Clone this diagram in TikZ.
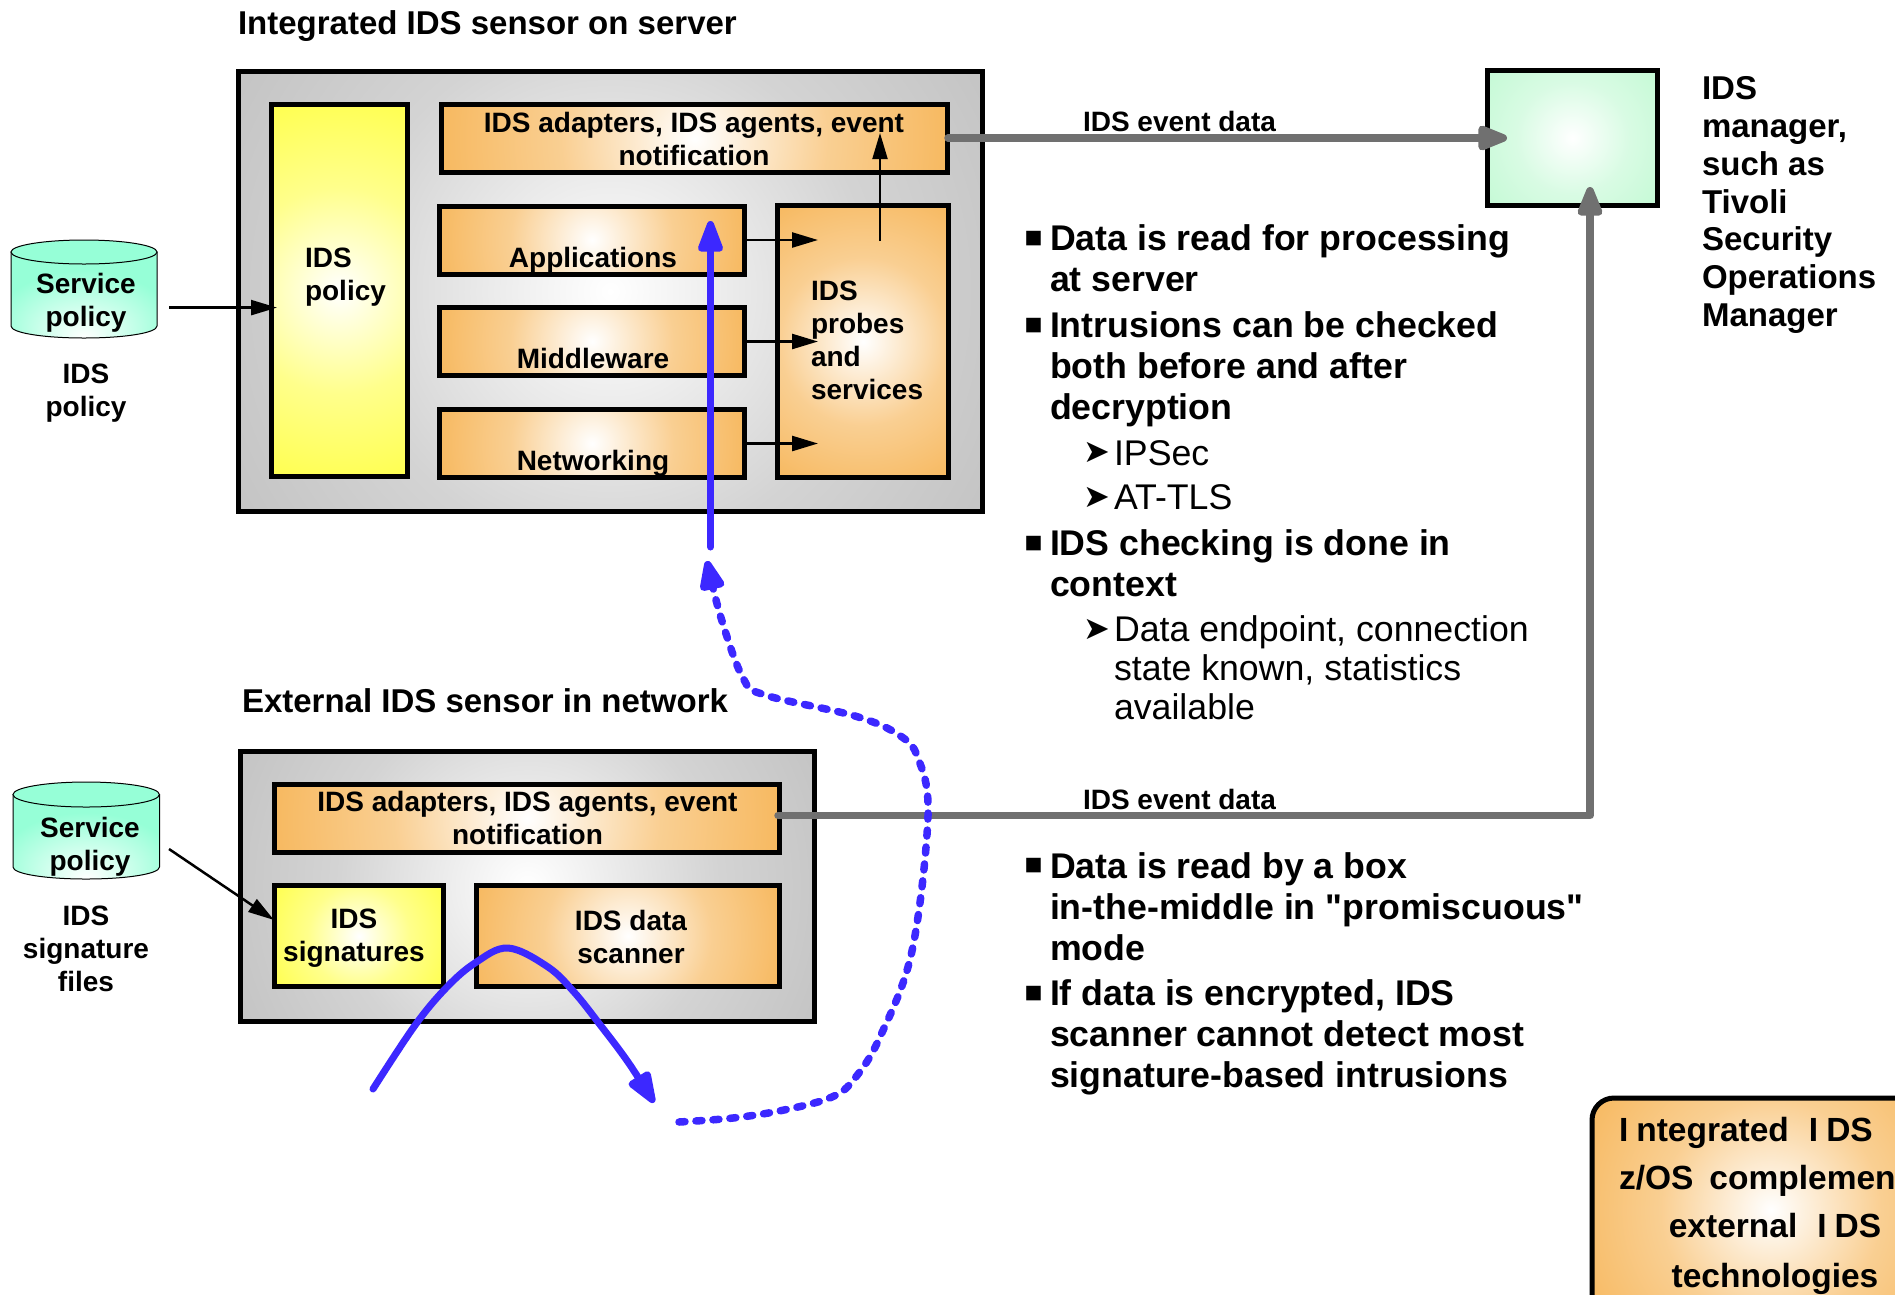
\documentclass[tikz,border=0pt]{standalone}
\usepackage{fontspec}
\setmainfont[Ligatures=TeXOff]{Liberation Sans}
\newfontfamily\symfont{DejaVu Sans}
\usetikzlibrary{arrows.meta,calc}
\definecolor{ora}{RGB}{245,168,58}
\definecolor{yel}{RGB}{255,255,45}
\definecolor{gry}{RGB}{176,176,176}
\definecolor{mnt}{RGB}{185,248,205}
\definecolor{cyl}{RGB}{150,255,215}
\definecolor{blu}{RGB}{60,40,255}
\definecolor{arr}{RGB}{112,112,112}
\colorlet{ora45}{ora!55!white}
\colorlet{yel45}{yel!55!white}
\colorlet{gry45}{gry!55!white}
\colorlet{mnt45}{mnt!55!white}
\pgfdeclareradialshading{shOra}{\pgfpoint{0bp}{0bp}}{color(0bp)=(white);color(13bp)=(ora45);color(34bp)=(ora);color(50bp)=(ora)}
\pgfdeclareradialshading{shYel}{\pgfpoint{0bp}{0bp}}{color(0bp)=(white);color(13bp)=(yel45);color(32bp)=(yel);color(50bp)=(yel)}
\pgfdeclareradialshading{shGry}{\pgfpoint{0bp}{0bp}}{color(0bp)=(white);color(15bp)=(gry45);color(38bp)=(gry);color(50bp)=(gry)}
\pgfdeclareradialshading{shMnt}{\pgfpoint{0bp}{0bp}}{color(0bp)=(white);color(13bp)=(mnt45);color(32bp)=(mnt);color(50bp)=(mnt)}
\pgfdeclareradialshading{shCyl}{\pgfpoint{0bp}{-25bp}}{color(0bp)=(white);color(30bp)=(cyl);color(80bp)=(cyl)}
\tikzset{
  circshade/.style={path picture={
    \path let \p1=($(path picture bounding box.north east)-(path picture bounding box.center)$),
      \n1={veclen(\x1,\y1)} in
      [shade,shading=#1] (path picture bounding box.center) circle[radius=\n1];
  }},
  boxbase/.style={draw=black,line width=5pt,inner sep=0pt,outer sep=0pt,rectangle},
  orabox/.style={boxbase,circshade=shOra},
  yelbox/.style={boxbase,circshade=shYel},
  grybox/.style={boxbase,circshade=shGry},
  mntbox/.style={boxbase,circshade=shMnt},
  lab/.style={inner sep=0pt,outer sep=0pt,align=center,font=\fontsize{28}{33}\selectfont\bfseries},
  labl/.style={lab,align=left,anchor=west},
  ttl/.style={inner sep=0pt,outer sep=0pt,anchor=west,font=\fontsize{33}{36}\selectfont\bfseries},
  evt/.style={inner sep=0pt,outer sep=0pt,anchor=west,font=\fontsize{28}{30}\selectfont\bfseries},
  bul/.style={inner sep=0pt,outer sep=0pt,anchor=west,align=left,font=\fontsize{35.7}{41}\selectfont\bfseries},
  sub/.style={inner sep=0pt,outer sep=0pt,anchor=west,align=left,font=\fontsize{35.7}{39}\selectfont},
  mrk/.style={inner sep=0pt,outer sep=0pt,font=\fontsize{19}{19}\selectfont\symfont},
  smk/.style={inner sep=0pt,outer sep=0pt,font=\fontsize{32}{32}\selectfont\symfont},
  kst/.style={inner sep=0pt,outer sep=0pt,font=\fontsize{33.5}{36}\selectfont\bfseries},
  blk/.style={-{Triangle[length=26pt,width=15pt]},line width=2.5pt,black},
  gline/.style={line width=7.5pt,arr,line cap=round,line join=round},
  gtip/.style={gline,-{Triangle[round,length=36pt,width=26pt]}},
  bsolid/.style={line width=7pt,blu,line cap=round,-{Triangle[round,length=38pt,width=26pt]}},
  bdot/.style={line width=7.5pt,blu,line cap=round,dash pattern=on 6pt off 11pt,-{Triangle[round,length=36pt,width=26pt]}},
  cylb/.style={draw=black,line width=1pt,shade,shading=shCyl},
  cylt/.style={draw=black,line width=1pt,fill=cyl},
}
\begin{document}
\begin{tikzpicture}[x=1pt,y=-1pt]
\useasboundingbox (0,0) rectangle (1895,1294);
\begin{scope}
\clip (0,0) rectangle (1895,1294);
% integrated sensor
\node[grybox,minimum width=744pt,minimum height=440pt] (box1) at (610.2,291.5) {};
\node[yelbox,minimum width=136pt,minimum height=372pt] (pol) at (339.5,290.5) {};
\node[orabox,minimum width=506pt,minimum height=68pt] (ad1) at (694.5,138.5) {};
\node[orabox,minimum width=305pt,minimum height=68pt] (app) at (592,240) {};
\node[orabox,minimum width=305pt,minimum height=68pt] (mid) at (592,341.5) {};
\node[orabox,minimum width=305pt,minimum height=68pt] (net) at (592,443.5) {};
\node[orabox,minimum width=171pt,minimum height=272pt] (prb) at (863,341.5) {};
\node[mntbox,minimum width=170pt,minimum height=135pt] (mgr) at (1572.5,138) {};
% external sensor
\node[grybox,minimum width=574pt,minimum height=270pt] (box2) at (527.5,886) {};
\node[orabox,minimum width=505pt,minimum height=68pt] (ad2) at (527,818) {};
\node[yelbox,minimum width=169pt,minimum height=101pt] (sig) at (359,936) {};
\node[orabox,minimum width=303pt,minimum height=101pt] (scn) at (628,936) {};
% conclusion box
\draw[line width=5pt,black,rounded corners=22pt,circshade=shOra] (1592,1098) rectangle (1950,1322);
% cylinders
\draw[cylb] (11,252) -- (11,326) .. controls (11,333) and (44,338) .. (84,338) .. controls (124,338) and (157,333) .. (157,326) -- (157,252) -- cycle;
\draw[cylt] (84,252) ellipse[x radius=73,y radius=12];
\draw[cylb] (13,794.5) -- (13,867) .. controls (13,874) and (46,879) .. (86,879) .. controls (126,879) and (159.5,874) .. (159.5,867) -- (159.5,794.5) -- cycle;
\draw[cylt] (86.2,794.5) ellipse[x radius=73.2,y radius=12.5];
% box labels
\node[lab] (tad1) at (694,138.5) {IDS adapters, IDS agents, event\\notification};
\node[lab] (tapp) at (593,260) {Applications};
\node[lab] (tmid) at (593,358.5) {Middleware};
\node[lab] (tnet) at (593,463) {Networking};
\node[labl] (tpol) at (305,277) {IDS\\policy};
\node[labl] (tprb) at (811,340.5) {IDS\\probes\\and\\services};
\node[lab] (tcy1) at (86,303) {Service\\policy};
\node[lab] (tip1) at (86,393.5) {IDS\\policy};
\node[lab] (tad2) at (527.5,818) {IDS adapters, IDS agents, event\\notification};
\node[lab] (tsig) at (354,938) {IDS\\signatures};
\node[lab] (tscn) at (631,936.5) {IDS data\\scanner};
\node[lab] (tcy2) at (90,846.5) {Service\\policy};
\node[lab] (tip2) at (86,949) {IDS\\signature\\files};
% titles
\node[ttl] (t1) at (238,26) {Integrated IDS sensor on server};
\node[ttl] (t2) at (242,701) {External IDS sensor in network};
\node[evt] (e1) at (1083,121) {IDS event data};
\node[evt] (e2) at (1083,799) {IDS event data};
\node[inner sep=0pt,outer sep=0pt,anchor=west,align=left,font=\fontsize{33}{37.7}\selectfont\bfseries] (tmgr) at (1702,205) {IDS\\manager,\\such as\\Tivoli\\Security\\Operations\\Manager};
% bullets
\node[mrk] (m1) at (1033.5,239) {■};
\node[bul] (b1) at (1050,258.5) {Data is read for processing\\at server};
\node[mrk] (m2) at (1033.5,326) {■};
\node[bul] (b2) at (1050,369.5) {Intrusions can be checked\\both before and after\\decryption};
\node[smk] (s1) at (1096.5,452) {➤};
\node[sub] (c1) at (1114,453) {IPSec};
\node[smk] (s2) at (1096.5,497) {➤};
\node[sub] (c2) at (1114,497) {AT-TLS};
\node[mrk] (m3) at (1033.5,544) {■};
\node[bul] (b3) at (1050,563) {IDS checking is done in\\context};
\node[smk] (s3) at (1096.5,629) {➤};
\node[sub] (c3) at (1114,668) {Data endpoint, connection\\state known, statistics\\available};
\node[mrk] (m4) at (1033.5,865.5) {■};
\node[bul] (b4) at (1050,906.5) {Data is read by a box\\in-the-middle in "promiscuous"\\mode};
\node[mrk] (m5) at (1033.5,994) {■};
\node[bul] (b5) at (1050,1037) {If data is encrypted, IDS\\scanner cannot detect most\\signature-based intrusions};
% conclusion text
\node[kst,anchor=west] (k1) at (1619,1133) {I\kern8pt ntegrated\kern20pt I\kern8pt DS};
\node[kst,anchor=west] (k2) at (1619,1181) {z/OS\kern16pt complemen};
\node[kst] (k3) at (1775,1226) {external\kern20pt I\kern8pt DS};
\node[kst] (k4) at (1775,1279) {technologies};
% free ends
\coordinate (c1e) at (169,307.6);
\coordinate (polin) at (277,307.6);
\coordinate (c2e) at (169,849);
\coordinate (sigin) at (274,920);
\coordinate (p1) at (818,240);
\coordinate (p2) at (818,341.5);
\coordinate (p3) at (818,443.5);
\coordinate (pstart) at (880,241);
\coordinate (padin) at (880,133);
\coordinate (mgrl) at (1507,138);
\coordinate (mgrb) at (1590,187);
\coordinate (cnr) at (1590,815.5);
\coordinate (g1) at (948,138);
\coordinate (g2) at (778,815.5);
% thin arrows
\draw[blk] (c1e) -- (polin);
\draw[blk] (c2e) -- (sigin);
\draw[blk] (app.east) -- (p1);
\draw[blk] (mid.east) -- (p2);
\draw[blk] (net.east) -- (p3);
\draw[blk,line width=2pt] (pstart) -- (padin);
% grey arrows
\draw[gtip] (g1) -- (mgrl);
\draw[gtip] (g2) -- (cnr) -- (mgrb);
% blue
\coordinate (bu0) at (710.5,547);
\coordinate (bu1) at (710.5,221);
\draw[bsolid] (bu0) -- (bu1);
\coordinate (a0) at (373,1089);
\coordinate (a1) at (414.5,1026);
\coordinate (a2) at (446,988);
\coordinate (a3) at (475,963);
\coordinate (a4) at (508,948);
\coordinate (a5) at (548,967);
\coordinate (a6) at (574,992);
\coordinate (a7) at (599.5,1024);
\coordinate (a8) at (628,1062);
\coordinate (a9) at (654,1102.6);
\draw[bsolid] plot[smooth,tension=0.6] coordinates {(a0) (a1) (a2) (a3) (a4) (a5) (a6) (a7) (a8) (a9)};
\coordinate (d0) at (679,1122);
\coordinate (e1p) at (733,1118);
\coordinate (e2p) at (784,1110);
\coordinate (d1) at (832,1097);
\coordinate (d2) at (855,1078);
\coordinate (d3) at (880,1037);
\coordinate (d4) at (912,951);
\coordinate (d5) at (928,815.5);
\coordinate (d6) at (918,758);
\coordinate (d7) at (899,735);
\coordinate (d8) at (855,716);
\coordinate (d9) at (765,695);
\coordinate (d10) at (743,678);
\coordinate (d11) at (720.6,616.5);
\coordinate (d12) at (707,561);
\draw[bdot] plot[smooth,tension=0.6] coordinates {(d0) (e1p) (e2p) (d1) (d2) (d3) (d4) (d5) (d6) (d7) (d8) (d9) (d10) (d11) (d12)};
\end{scope}
\end{tikzpicture}
\end{document}
